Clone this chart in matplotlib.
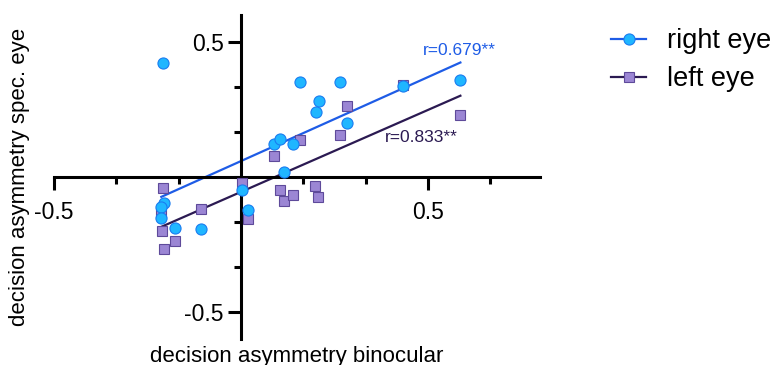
import numpy as np
import matplotlib.pyplot as plt
from matplotlib.ticker import MultipleLocator

plt.rcParams['font.family'] = ['Liberation Sans', 'DejaVu Sans']

# right eye (circles)
right_x = [-0.208, -0.207, -0.213, -0.213, -0.176, -0.108, 0.004, 0.018, 0.089, 0.105,
           0.139, 0.116, 0.158, 0.208, 0.201, 0.266, 0.284, 0.433, 0.587]
right_y = [0.419, -0.097, -0.110, -0.151, -0.191, -0.194, -0.049, -0.122, 0.123, 0.141,
           0.122, 0.019, 0.351, 0.279, 0.241, 0.352, 0.199, 0.334, 0.357]

# left eye (squares)
left_x = [-0.208, -0.214, -0.211, -0.176, -0.207, -0.107, 0.003, 0.018, 0.089, 0.158,
          0.105, 0.116, 0.139, 0.199, 0.206, 0.264, 0.284, 0.433, 0.587]
left_y = [-0.042, -0.135, -0.201, -0.236, -0.268, -0.120, -0.023, -0.157, 0.075, 0.137,
          -0.048, -0.090, -0.067, -0.033, -0.075, 0.153, 0.263, 0.341, 0.227]

# regression lines (slope, intercept)
right_fit = (0.621, 0.058)
left_fit = (0.606, -0.056)
right_r = "r=0.679**"
left_r = "r=0.833**"

blue_fill = "#1fb6ff"
blue_edge = "#1a7cf0"
blue_line = "#1e5ce6"
purple_fill = "#9b86d4"
purple_edge = "#5e4a9a"
dark_line = "#2b1a52"

fig = plt.figure(figsize=(7.73, 3.65), dpi=100)
ax = fig.add_axes([0.0699, 0.0712, 0.6287, 0.889])

xs = np.array([min(right_x), max(right_x)])
ax.plot(xs, right_fit[0] * xs + right_fit[1], color=blue_line, lw=1.6, zorder=2)
xs = np.array([min(left_x), max(left_x)])
ax.plot(xs, left_fit[0] * xs + left_fit[1], color=dark_line, lw=1.6, zorder=2)

ax.plot(left_x, left_y, ls="none", marker="s", ms=7.3, mfc=purple_fill,
        mec=purple_edge, mew=0.8, zorder=3)
ax.plot(right_x, right_y, ls="none", marker="o", ms=8, mfc=blue_fill,
        mec=blue_edge, mew=0.8, zorder=4)

ax.text(0.584, 0.467, right_r, color=blue_line, fontsize=12.5, ha="center", va="center")
ax.text(0.482, 0.144, left_r, color=dark_line, fontsize=12.5, ha="center", va="center")

ax.set_xlim(-0.5, 0.8)
ax.set_ylim(-0.6, 0.6)

for s in ["top", "right"]:
    ax.spines[s].set_visible(False)
ax.spines["left"].set_position(("data", 0))
ax.spines["bottom"].set_position(("data", 0))
ax.spines["left"].set_linewidth(2.2)
ax.spines["bottom"].set_linewidth(2.2)
ax.spines["bottom"].set_bounds(-0.5, 0.8)

ax.set_xticks([-0.5, 0.5])
ax.set_yticks([-0.5, 0.5])
ax.set_xticklabels(["-0.5", "0.5"])
ax.set_yticklabels(["-0.5", "0.5"])
ax.xaxis.set_minor_locator(MultipleLocator(1 / 6))
ax.yaxis.set_minor_locator(MultipleLocator(1 / 6))
ax.tick_params(which="major", length=9.5, width=2.2, labelsize=16.5, direction="out")
ax.tick_params(axis="x", which="major", pad=8)
ax.tick_params(axis="y", which="major", pad=3)
ax.tick_params(which="minor", length=5, width=2.2, direction="out")

ax.set_xlabel("decision asymmetry binocular", fontsize=16)
ax.set_ylabel("decision asymmetry spec. eye", fontsize=16)
ax.xaxis.set_label_coords(0.5, -0.02)
ax.yaxis.set_label_coords(-0.05, 0.5)

h1, = ax.plot([], [], color=blue_line, lw=1.6, marker="o", ms=8, mfc=blue_fill,
              mec=blue_edge, mew=0.8)
h2, = ax.plot([], [], color=dark_line, lw=1.6, marker="s", ms=7.3, mfc=purple_fill,
              mec=purple_edge, mew=0.8)
fig.legend([h1, h2], ["right eye", "left eye"], loc="upper left",
           bbox_to_anchor=(0.759, 0.99), frameon=False, fontsize=19.5,
           handlelength=1.3, handletextpad=0.75, labelspacing=0.45)

fig.savefig("out.png", dpi=100)
